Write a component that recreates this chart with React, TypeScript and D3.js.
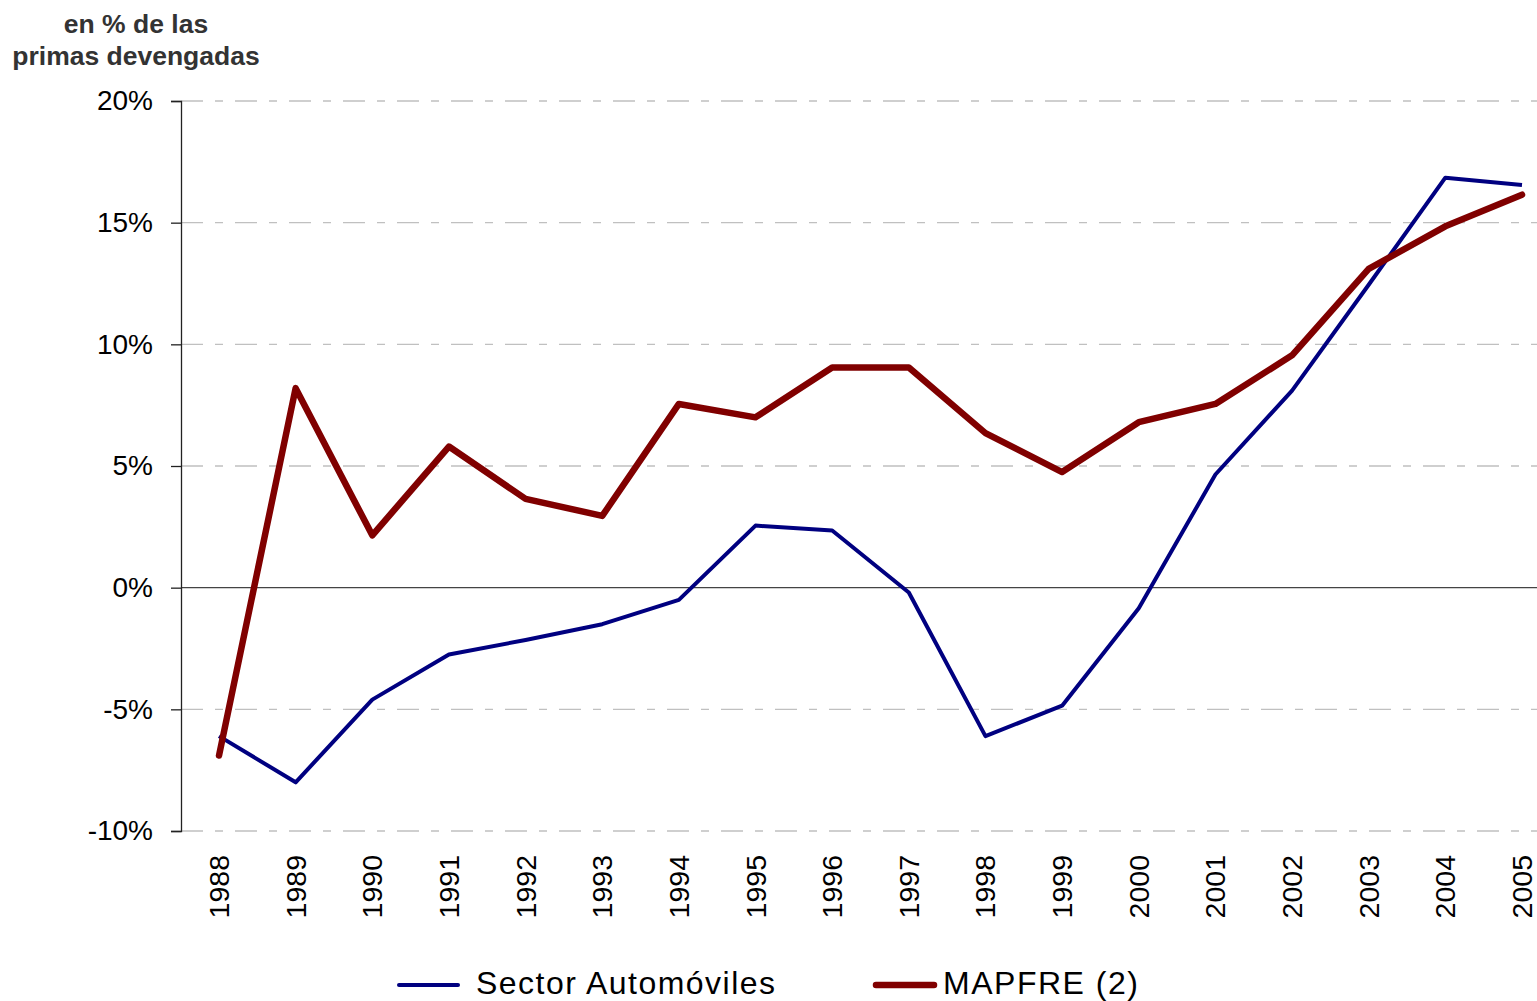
import React, { useRef, useEffect } from "react";
import * as d3 from "d3";

const years = [
  "1988", "1989", "1990", "1991", "1992", "1993", "1994", "1995", "1996",
  "1997", "1998", "1999", "2000", "2001", "2002", "2003", "2004", "2005",
];
const sectorAutomoviles = [
  -6.1, -8.0, -4.6, -2.75, -2.15, -1.5, -0.5, 2.55, 2.35, -0.2, -6.1, -4.85,
  -0.85, 4.65, 8.1, 12.45, 16.85, 16.55,
];
const mapfre = [
  -6.9, 8.2, 2.15, 5.8, 3.65, 2.95, 7.55, 7.0, 9.05, 9.05, 6.35, 4.75, 6.8,
  7.55, 9.55, 13.1, 14.85, 16.15,
];
const yTicks = [-10, -5, 0, 5, 10, 15, 20];
const seriesNames = ["Sector Automóviles", "MAPFRE (2)"];

function App() {
  const svgRef = useRef<SVGSVGElement>(null);

  useEffect(() => {
    const svg = d3.select(svgRef.current);
    svg.selectAll("*").remove();

    const width = 1537,
      height = 1001;
    const left = 181,
      top = 101,
      bottom = 831,
      right = 1537;

    const x = d3
      .scalePoint<string>()
      .domain(years)
      .range([219, 1522]);
    const y = d3.scaleLinear().domain([-10, 20]).range([bottom, top]);

    svg.attr("width", width).attr("height", height);
    const font = "Liberation Sans, Arial, sans-serif";

    // title
    svg
      .append("text")
      .attr("font-family", font)
      .attr("font-weight", "bold")
      .attr("font-size", 26.5)
      .attr("fill", "#333")
      .attr("text-anchor", "middle")
      .selectAll("tspan")
      .data(["en % de las", "primas devengadas"])
      .join("tspan")
      .attr("x", 136)
      .attr("y", (d, i) => 33 + i * 32)
      .text((d) => d);

    // gridlines
    svg
      .append("g")
      .selectAll("line")
      .data(yTicks.filter((d) => d !== 0))
      .join("line")
      .attr("x1", left)
      .attr("x2", right)
      .attr("y1", (d) => y(d))
      .attr("y2", (d) => y(d))
      .attr("stroke", "#c0c0c0")
      .attr("stroke-width", 1.3)
      .attr("stroke-dasharray", "22,12,8,12");

    // zero line
    svg
      .append("line")
      .attr("x1", left)
      .attr("x2", right)
      .attr("y1", y(0))
      .attr("y2", y(0))
      .attr("stroke", "#444")
      .attr("stroke-width", 1.3);

    // y axis
    const yAxis = svg
      .append("g")
      .attr("transform", `translate(${left},0)`)
      .call(
        d3
          .axisLeft(y)
          .tickValues(yTicks)
          .tickSize(10)
          .tickPadding(18)
          .tickFormat((d) => d + "%")
      );
    yAxis.select(".domain").attr("stroke", "#222").attr("stroke-width", 1.3);
    yAxis.selectAll(".tick line").attr("stroke", "#222").attr("stroke-width", 1.3);
    yAxis
      .selectAll(".tick text")
      .attr("font-family", font)
      .attr("font-size", 28)
      .attr("fill", "#000");

    // x labels (rotated)
    svg
      .append("g")
      .selectAll("text")
      .data(years)
      .join("text")
      .attr("transform", (d) => `translate(${x(d)! + 10},855) rotate(-90)`)
      .attr("text-anchor", "end")
      .attr("font-family", font)
      .attr("font-size", 28.5)
      .attr("fill", "#000")
      .text((d) => d);

    const line = d3
      .line<number>()
      .x((d, i) => x(years[i])!)
      .y((d) => y(d));

    svg
      .append("path")
      .datum(sectorAutomoviles)
      .attr("d", line)
      .attr("fill", "none")
      .attr("stroke", "#000080")
      .attr("stroke-width", 4)
      .attr("stroke-linejoin", "round");

    svg
      .append("path")
      .datum(mapfre)
      .attr("d", line)
      .attr("fill", "none")
      .attr("stroke", "#800000")
      .attr("stroke-width", 6.5)
      .attr("stroke-linejoin", "round")
      .attr("stroke-linecap", "round");

    // legend
    const legend = [
      { name: seriesNames[0], color: "#000080", w: 4, x1: 399, x2: 458, tx: 476, tl: 299 },
      { name: seriesNames[1], color: "#800000", w: 6.5, x1: 876, x2: 934, tx: 943, tl: 195 },
    ];
    const lg = svg.append("g");
    lg.selectAll("line")
      .data(legend)
      .join("line")
      .attr("x1", (d) => d.x1)
      .attr("x2", (d) => d.x2)
      .attr("y1", 985)
      .attr("y2", 985)
      .attr("stroke", (d) => d.color)
      .attr("stroke-width", (d) => d.w)
      .attr("stroke-linecap", "round");
    lg.selectAll("text")
      .data(legend)
      .join("text")
      .attr("x", (d) => d.tx)
      .attr("y", 994)
      .attr("font-family", font)
      .attr("font-size", 32)
      .attr("textLength", (d) => d.tl)
      .attr("lengthAdjust", "spacing")
      .attr("fill", "#000")
      .text((d) => d.name);
  }, []);

  return (
    <div style={{ position: "absolute", left: 0, top: 0 }}>
      <svg ref={svgRef} style={{ display: "block" }}></svg>
    </div>
  );
}

export default App;
